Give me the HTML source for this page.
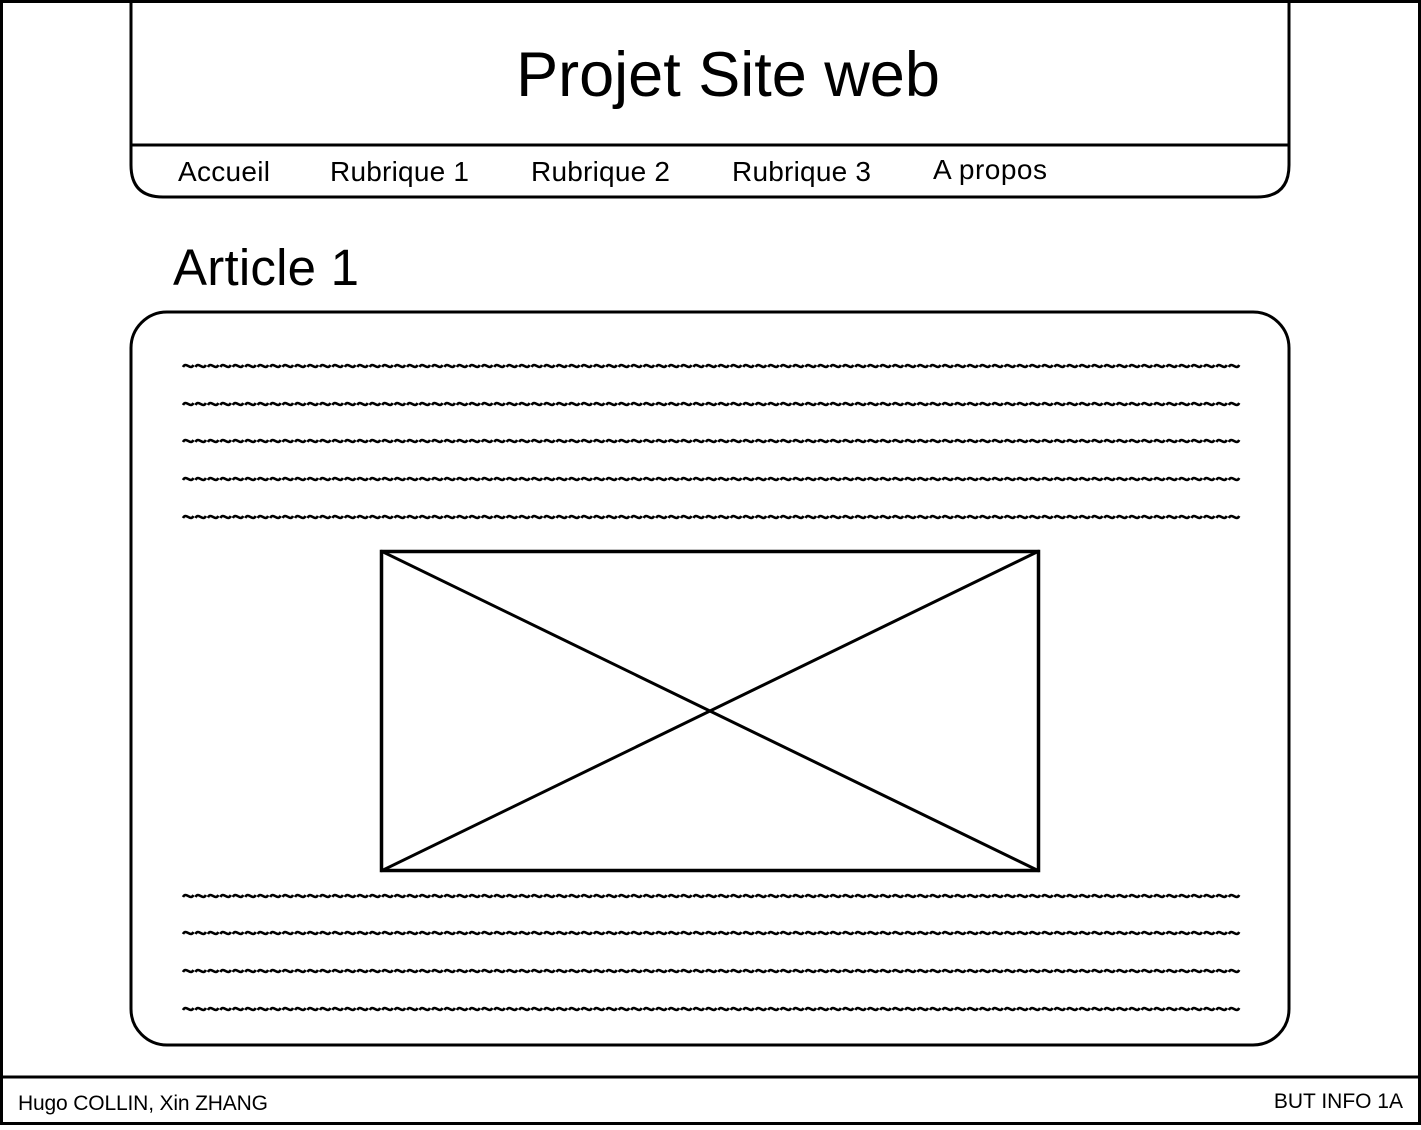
<!DOCTYPE html><html><head><style>body{margin:0}svg text{font-family:"Liberation Sans",sans-serif;fill:#000}</style></head><body>
<svg width="1421" height="1125" viewBox="0 0 1421 1125" xmlns="http://www.w3.org/2000/svg">
<rect x="1.5" y="1.5" width="1418" height="1122" fill="#fff" stroke="#000" stroke-width="3"/>
<line x1="0" y1="1077" x2="1421" y2="1077" stroke="#000" stroke-width="3"/>
<path d="M131 -5 V165 Q131 197 163 197 H1257 Q1289 197 1289 165 V-5" fill="none" stroke="#000" stroke-width="3"/>
<line x1="131" y1="145" x2="1289" y2="145" stroke="#000" stroke-width="3"/>
<text x="728" y="96" font-size="63" text-anchor="middle">Projet Site web</text>
<g font-size="28"><text x="178" y="181" textLength="92">Accueil</text><text x="330" y="181" textLength="139">Rubrique 1</text><text x="531" y="181" textLength="139">Rubrique 2</text><text x="732" y="181" textLength="139">Rubrique 3</text><text x="933" y="179" textLength="114">A propos</text></g>
<text x="173" y="285" font-size="51" textLength="186">Article 1</text>
<rect x="131" y="312" width="1158" height="733" rx="36" fill="none" stroke="#000" stroke-width="3"/>
<g fill="none" stroke="#000" stroke-width="2.6" id="waves"></g>
<rect x="381.5" y="551.5" width="657" height="319" fill="none" stroke="#000" stroke-width="3.5"/>
<line x1="381" y1="551" x2="1039" y2="871" stroke="#000" stroke-width="3"/>
<line x1="1039" y1="551" x2="381" y2="871" stroke="#000" stroke-width="3"/>
<text x="18" y="1110" font-size="21" textLength="250">Hugo COLLIN, Xin ZHANG</text>
<text x="1403" y="1108" font-size="21" text-anchor="end">BUT INFO 1A</text>
</svg>
<script>
var g=document.getElementById('waves');var ys=[366,404,441,479,517,896,933,971,1009];
ys.forEach(function(y){var p=12.45,d='';for(var i=0;i<85;i++){var x=182+i*p+1;var w=p-2;d+=' M'+x+' '+(y+1)+' C'+(x+w*0.3)+' '+(y-5)+' '+(x+w*0.7)+' '+(y+5)+' '+(x+w)+' '+(y-1);}
var e=document.createElementNS('http://www.w3.org/2000/svg','path');e.setAttribute('d',d);g.appendChild(e);});
</script>
</body></html>
